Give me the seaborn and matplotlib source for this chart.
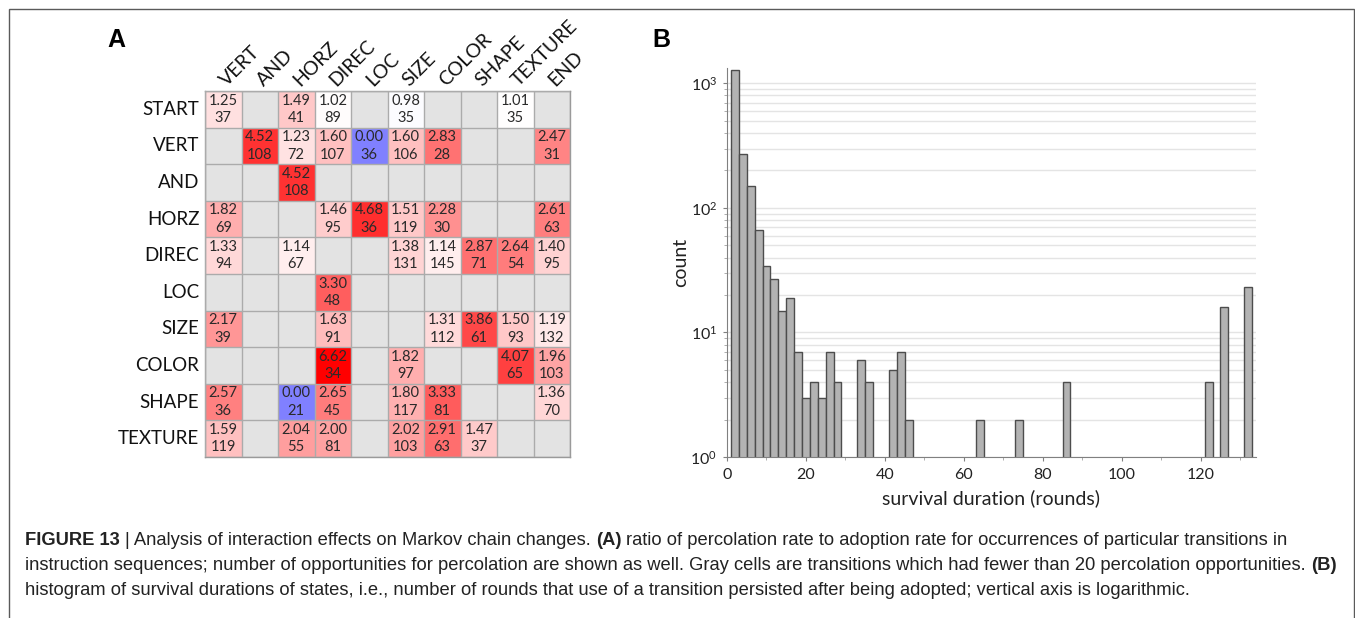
import numpy as np
import pandas as pd
import matplotlib
matplotlib.use("Agg")
import matplotlib.pyplot as plt
import seaborn as sns
from matplotlib.patches import Rectangle
from matplotlib.ticker import MultipleLocator, LogLocator, NullFormatter

# ---------------- data ----------------
rows = ["START", "VERT", "AND", "HORZ", "DIREC", "LOC", "SIZE", "COLOR", "SHAPE", "TEXTURE"]
cols = ["VERT", "AND", "HORZ", "DIREC", "LOC", "SIZE", "COLOR", "SHAPE", "TEXTURE", "END"]
nan = np.nan
ratio_start   = [1.25, nan, 1.49, 1.02, nan, 0.98, nan, nan, 1.01, nan]
ratio_vert    = [nan, 4.52, 1.23, 1.60, 0.00, 1.60, 2.83, nan, nan, 2.47]
ratio_and     = [nan, nan, 4.52, nan, nan, nan, nan, nan, nan, nan]
ratio_horz    = [1.82, nan, nan, 1.46, 4.68, 1.51, 2.28, nan, nan, 2.61]
ratio_direc   = [1.33, nan, 1.14, nan, nan, 1.38, 1.14, 2.87, 2.64, 1.40]
ratio_loc     = [nan, nan, nan, 3.30, nan, nan, nan, nan, nan, nan]
ratio_size    = [2.17, nan, nan, 1.63, nan, nan, 1.31, 3.86, 1.50, 1.19]
ratio_color   = [nan, nan, nan, 6.62, nan, 1.82, nan, nan, 4.07, 1.96]
ratio_shape   = [2.57, nan, 0.00, 2.65, nan, 1.80, 3.33, nan, nan, 1.36]
ratio_texture = [1.59, nan, 2.04, 2.00, nan, 2.02, 2.91, 1.47, nan, nan]

opp_start   = [37, 0, 41, 89, 0, 35, 0, 0, 35, 0]
opp_vert    = [0, 108, 72, 107, 36, 106, 28, 0, 0, 31]
opp_and     = [0, 0, 108, 0, 0, 0, 0, 0, 0, 0]
opp_horz    = [69, 0, 0, 95, 36, 119, 30, 0, 0, 63]
opp_direc   = [94, 0, 67, 0, 0, 131, 145, 71, 54, 95]
opp_loc     = [0, 0, 0, 48, 0, 0, 0, 0, 0, 0]
opp_size    = [39, 0, 0, 91, 0, 0, 112, 61, 93, 132]
opp_color   = [0, 0, 0, 34, 0, 97, 0, 0, 65, 103]
opp_shape   = [36, 0, 21, 45, 0, 117, 81, 0, 0, 70]
opp_texture = [119, 0, 55, 81, 0, 103, 63, 37, 0, 0]

# histogram of survival durations (bin left edges, width 2)
bin_left = [1, 3, 5, 7, 9, 11, 13, 15, 17, 19, 21, 23, 25, 27, 33, 35, 41, 43, 45, 63, 73, 85, 121, 125, 131]
bin_count = [1280, 273, 149, 67, 34, 27, 15, 19, 7, 3, 4, 3, 7, 4, 6, 4, 5, 7, 2, 2, 2, 4, 4, 16, 23]
bin_width = 2

# ---------------- style ----------------
plt.rcParams["font.family"] = ["Lato", "DejaVu Sans"]
plt.rcParams["mathtext.fontset"] = "custom"
plt.rcParams["mathtext.rm"] = "Lato"
plt.rcParams["mathtext.it"] = "Lato:italic"
plt.rcParams["mathtext.bf"] = "Lato:bold"

W, H = 1355, 618
fig = plt.figure(figsize=(W / 100, H / 100), dpi=100)

def px_rect(x0, y0, x1, y1):
    return [x0 / W, 1 - y1 / H, (x1 - x0) / W, (y1 - y0) / H]

# ---------------- panel A: heatmap ----------------
ratio = pd.DataFrame([ratio_start, ratio_vert, ratio_and, ratio_horz, ratio_direc,
                      ratio_loc, ratio_size, ratio_color, ratio_shape, ratio_texture],
                     index=rows, columns=cols)
opps = pd.DataFrame([opp_start, opp_vert, opp_and, opp_horz, opp_direc,
                     opp_loc, opp_size, opp_color, opp_shape, opp_texture],
                    index=rows, columns=cols)

L = np.log(ratio.max().max())
with np.errstate(divide="ignore"):
    colour_val = np.log(ratio.clip(lower=1e-9))
colour_val = colour_val.clip(lower=-0.5 * L)
labels = np.where(ratio.isna(), "",
                  ratio.map(lambda v: f"{v:.2f}").astype(str) + "\n" + opps.astype(str))

axA = fig.add_axes(px_rect(205, 91, 570, 457))
sns.heatmap(colour_val, mask=ratio.isna(), cmap="bwr", vmin=-L, vmax=L,
            annot=labels, fmt="", cbar=False, ax=axA,
            annot_kws=dict(fontsize=10.5, color="#2a2a2a", linespacing=1.3))
axA.set_facecolor("#e3e3e3")
axA.set_xticks(np.arange(len(cols) + 1), minor=True)
axA.set_yticks(np.arange(len(rows) + 1), minor=True)
axA.grid(False, which="major")
axA.grid(True, which="minor", color="#ababab", lw=1)
axA.set_axisbelow(False)
axA.tick_params(which="both", length=0)
axA.xaxis.tick_top()
axA.set_xticklabels(cols, rotation=45, ha="left", va="center",
                    rotation_mode="anchor", fontsize=14, color="#111")
axA.tick_params(axis="x", pad=6)
axA.set_yticklabels(rows, rotation=0, fontsize=13.5, color="#111")
axA.tick_params(axis="y", pad=4)
axA.set_xlabel("")
axA.set_ylabel("")
for s in axA.spines.values():
    s.set_visible(True)
    s.set_color("#9a9a9a")
    s.set_linewidth(1)

# ---------------- panel B: histogram ----------------
axB = fig.add_axes(px_rect(727, 68, 1256, 457))
hist_df = pd.DataFrame({"duration": np.array(bin_left, dtype=float) + bin_width / 2,
                        "count": bin_count})
sns.histplot(data=hist_df, x="duration", weights="count", binwidth=bin_width,
             binrange=(min(bin_left), max(bin_left) + bin_width), ax=axB,
             color="#b3b3b3", edgecolor="#4d4d4d", linewidth=1, alpha=1)
axB.set_yscale("log")
axB.set_xlim(0, 134)
axB.set_ylim(1, 1330)
axB.yaxis.set_major_locator(LogLocator(base=10, numticks=10))
axB.yaxis.set_minor_locator(LogLocator(base=10, subs=np.arange(2, 10), numticks=20))
axB.yaxis.set_minor_formatter(NullFormatter())
axB.xaxis.set_major_locator(MultipleLocator(20))
axB.xaxis.set_minor_locator(MultipleLocator(10))
axB.yaxis.grid(True, which="both", color="#e4e4e4", lw=1)
axB.set_axisbelow(True)
axB.spines["top"].set_visible(False)
axB.spines["right"].set_visible(False)
axB.spines["left"].set_color("#808080")
axB.spines["bottom"].set_color("#808080")
axB.tick_params(axis="both", which="major", length=3, color="#808080",
                labelsize=11.5, labelcolor="#222")
axB.tick_params(axis="both", which="minor", length=2, color="#a0a0a0")
axB.tick_params(axis="y", pad=4)
axB.tick_params(axis="x", pad=5)
axB.set_ylabel("count", fontsize=14, color="#222", labelpad=1)
axB.set_xlabel("survival duration (rounds)", fontsize=14, color="#222", labelpad=5)

# ---------------- panel letters & frame ----------------
fig.text(107 / W, 1 - 47 / H, "A", fontsize=18, fontweight="bold",
         family="Liberation Sans", va="baseline")
fig.text(652 / W, 1 - 47 / H, "B", fontsize=18, fontweight="bold",
         family="Liberation Sans", va="baseline")
fig.add_artist(Rectangle((9 / W, -0.05), (1354 - 9) / W, 1.05 - 9 / H,
                         transform=fig.transFigure, fill=False,
                         ec="#5a5a5a", lw=1))

# ---------------- caption ----------------
cap_size = 13.2
cap_family = "Liberation Sans"
renderer = fig.canvas.get_renderer()

def text_w(s, bold):
    t = fig.text(0, 0, s, fontsize=cap_size, family=cap_family,
                 fontweight="bold" if bold else "normal")
    w = t.get_window_extent(renderer).width
    t.remove()
    return w

space_w = text_w("x x", False) - text_w("xx", False)

def rich_line(y_px, parts):
    x = 25.0
    for s, bold in parts:
        t = fig.text(x / W, 1 - y_px / H, s, fontsize=cap_size, family=cap_family,
                     fontweight="bold" if bold else "normal", va="baseline",
                     color="#222")
        x += t.get_window_extent(renderer).width + space_w

rich_line(545, [("FIGURE 13", True),
                ("| Analysis of interaction effects on Markov chain changes.", False),
                ("(A)", True),
                ("ratio of percolation rate to adoption rate for occurrences of particular transitions in", False)])
rich_line(570, [("instruction sequences; number of opportunities for percolation are shown as well. Gray cells are transitions which had fewer than 20 percolation opportunities.", False),
                ("(B)", True)])
rich_line(595, [("histogram of survival durations of states, i.e., number of rounds that use of a transition persisted after being adopted; vertical axis is logarithmic.", False)])

fig.savefig("out.png", dpi=100)
